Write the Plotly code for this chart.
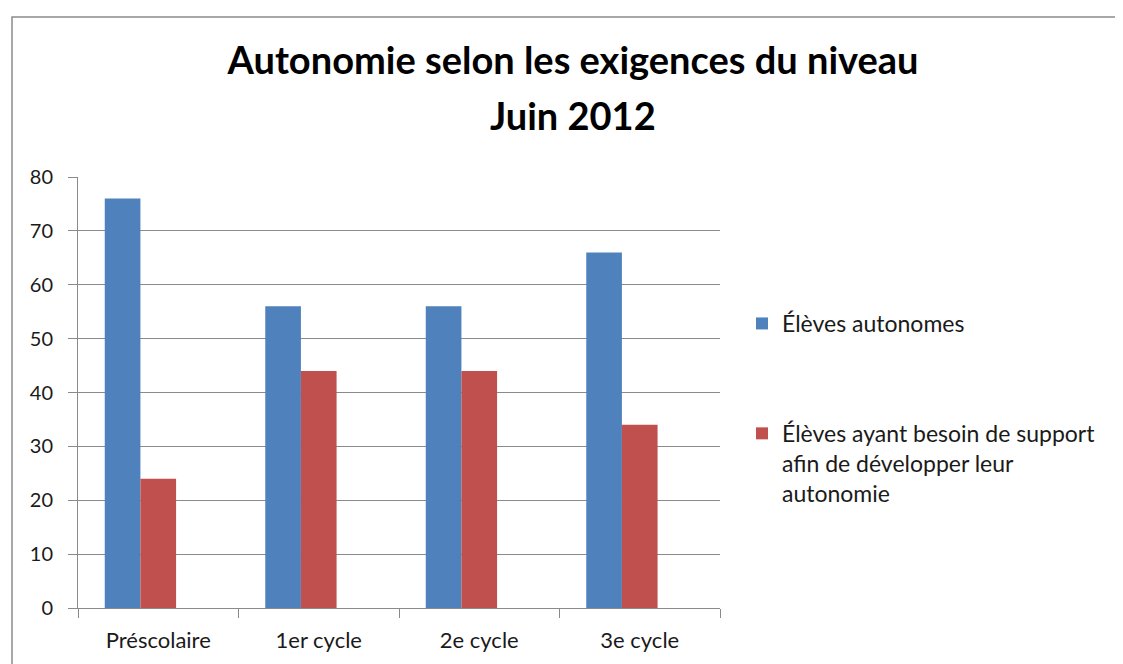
import plotly.graph_objects as go

categories = ["Préscolaire", "1er cycle", "2e cycle", "3e cycle"]
autonomes = [76, 56, 56, 66]
besoin_support = [24, 44, 44, 34]
series_names = [
    "Élèves autonomes",
    "Élèves ayant besoin de support<br>afin de développer leur<br>autonomie",
]
y_ticks = [0, 10, 20, 30, 40, 50, 60, 70, 80]
title_line1 = "Autonomie selon les exigences du niveau"
title_line2 = "Juin 2012"

FONT = "Lato"
GRID = "#8a8a8a"
TXT = "#1a1a1a"

# the page body has an 8px margin: work in figure coords = page coords - 8
OFF = 8
W, H = 1123 - OFF, 664 - OFF
PL, PR, PT, PB = 78 - OFF, 720 - OFF, 177 - OFF, 608 - OFF
PW, PH = PR - PL, PB - PT


def px(xp):
    return (xp - OFF - PL) / PW


def py(yp):
    return (PB - (yp - OFF)) / PH


fig = go.Figure()
fig.add_trace(go.Bar(
    x=categories, y=autonomes, name=series_names[0],
    marker=dict(color="#4F81BD", line=dict(width=0)),
    width=0.2222, offset=-0.3333, legendgroup="a",
))
fig.add_trace(go.Bar(
    x=categories, y=besoin_support, name=series_names[1],
    marker=dict(color="#C0504D", line=dict(width=0)),
    width=0.2222, offset=-0.1111, legendgroup="b",
))

fig.update_layout(
    width=W, height=H,
    margin=dict(l=PL, r=W - PR, t=PT, b=H - PB),
    paper_bgcolor="white", plot_bgcolor="white",
    font=dict(family=FONT, size=20, color=TXT),
    barmode="group",
    title=dict(
        text=title_line1, x=(573 - OFF) / W, xanchor="center",
        xref="container", yref="container",
        y=1 - (61 - OFF) / H, yanchor="middle",
        font=dict(family=FONT, size=38, color="#000000", weight=700),
    ),
    legend=dict(
        x=px(742), xanchor="left", y=py(302), yanchor="top",
        font=dict(family=FONT, size=23, color=TXT),
        traceorder="grouped", tracegroupgap=77, valign="top",
        bgcolor="rgba(0,0,0,0)",
    ),
    showlegend=True,
)

fig.add_annotation(
    text=title_line2, xref="paper", yref="paper",
    x=px(573), y=py(115), xanchor="center", yanchor="middle",
    showarrow=False, font=dict(family=FONT, size=38, color="#000000", weight=700),
)

fig.update_xaxes(
    showline=True, linecolor=GRID, linewidth=1,
    ticks="outside", tickson="boundaries", ticklen=9, tickcolor=GRID,
    showgrid=False, tickfont=dict(family=FONT, size=22, color=TXT),
    ticklabelstandoff=13,
)
fig.update_yaxes(
    range=[0, 80], tickvals=y_ticks, showline=True, linecolor=GRID, linewidth=1,
    ticks="outside", ticklen=9, tickcolor=GRID,
    showgrid=True, gridcolor=GRID, gridwidth=1, zeroline=False,
    tickfont=dict(family=FONT, size=20, color=TXT),
    ticklabelstandoff=11,
)

# chart area border
fig.add_shape(
    type="rect", xref="paper", yref="paper",
    x0=px(12), x1=px(1150), y0=py(690), y1=py(17),
    line=dict(color="#8c8c8c", width=1.5), fillcolor="rgba(0,0,0,0)", layer="below",
)

fig.write_html("out.html")
